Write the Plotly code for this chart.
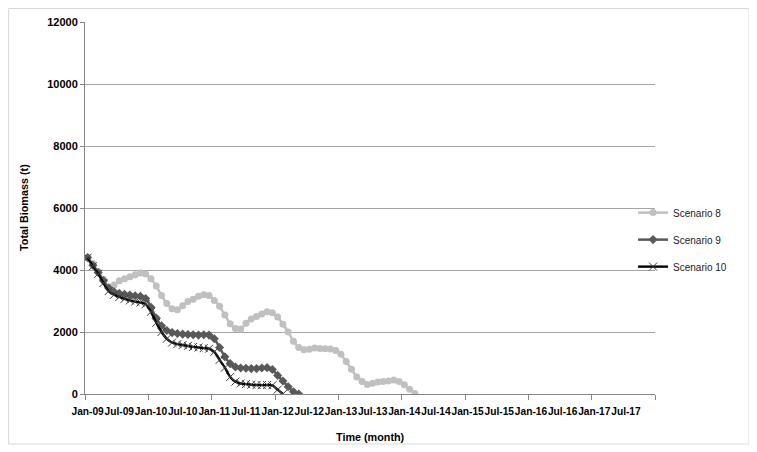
import plotly.graph_objects as go

# Monthly total biomass (t), starting Jan-09
scenario8 = [4400, 4200, 3950, 3700, 3450, 3520, 3650, 3720, 3780, 3850,
             3900, 3870, 3720, 3480, 3180, 2920, 2750, 2720, 2850, 2980,
             3060, 3150, 3200, 3180, 3020, 2830, 2550, 2270, 2110, 2100,
             2280, 2420, 2500, 2580, 2650, 2620, 2480, 2250, 2000, 1700,
             1500, 1430, 1440, 1480, 1470, 1460, 1450, 1400, 1280, 1050,
             800, 550, 400, 310, 350, 390, 400, 420, 450, 400,
             300, 150, 20]
scenario9 = [4400, 4150, 3920, 3650, 3420, 3300, 3250, 3220, 3190, 3170,
             3150, 3080, 2800, 2450, 2200, 2050, 1980, 1950, 1930, 1920,
             1910, 1900, 1910, 1900, 1780, 1500, 1200, 980, 870, 840,
             830, 820, 820, 840, 850, 790, 600, 420, 235, 75,
             0]
scenario10 = [4400, 4120, 3880, 3580, 3320, 3200, 3130, 3070, 3020, 2980,
              2950, 2900, 2650, 2300, 2000, 1780, 1660, 1610, 1580, 1550,
              1520, 1500, 1480, 1460, 1360, 1100, 850, 550, 400, 340,
              320, 300, 290, 285, 290, 280, 140, 0]

tick_labels = ["Jan-09", "Jul-09", "Jan-10", "Jul-10", "Jan-11", "Jul-11",
               "Jan-12", "Jul-12", "Jan-13", "Jul-13", "Jan-14", "Jul-14",
               "Jan-15", "Jul-15", "Jan-16", "Jul-16", "Jan-17", "Jul-17"]
n_months = 108

FONT = "Liberation Sans, Arial, sans-serif"

fig = go.Figure()
fig.add_trace(go.Scatter(
    x=list(range(len(scenario8))), y=scenario8, name="Scenario 8",
    mode="lines+markers", legendgroup="a",
    line=dict(color="#C0C0C0", width=2.5, shape="spline", smoothing=0.8),
    marker=dict(symbol="circle", size=7, color="#C0C0C0")))
fig.add_trace(go.Scatter(
    x=list(range(len(scenario9))), y=scenario9, name="Scenario 9",
    mode="lines+markers", legendgroup="b",
    line=dict(color="#595959", width=2.5, shape="spline", smoothing=0.8),
    marker=dict(symbol="diamond", size=7, color="#595959")))
fig.add_trace(go.Scatter(
    x=list(range(len(scenario10))), y=scenario10, name="Scenario 10",
    mode="lines+markers", legendgroup="c",
    line=dict(color="#000000", width=2.4, shape="spline", smoothing=0.8),
    marker=dict(symbol="x-thin", size=8, color="#404040",
                line=dict(width=1, color="#404040"))))

fig.update_layout(
    width=749, height=444,
    margin=dict(l=77, r=102, t=14, b=58),
    paper_bgcolor="white", plot_bgcolor="white",
    font=dict(family=FONT, size=10, color="#000000"),
    showlegend=True,
    legend=dict(x=0.9615, xanchor="left", y=0.415, yanchor="middle",
                font=dict(size=10, color="#222222"),
                traceorder="grouped", tracegroupgap=8,
                itemwidth=30, bgcolor="rgba(0,0,0,0)"),
    shapes=[dict(type="rect", xref="paper", yref="paper",
                 x0=-0.134, x1=1.1649, y0=-0.1344, y1=1.0363,
                 line=dict(color="#D9D9D9", width=1), layer="below")],
    annotations=[
        dict(text="<b>Total Biomass (t)</b>", xref="paper", yref="paper",
             x=-0.107, y=0.5, xanchor="center", yanchor="middle",
             textangle=-90, showarrow=False,
             font=dict(family=FONT, size=10.8, color="#000000")),
        dict(text="<b>Time (month)</b>", xref="paper", yref="paper",
             x=0.5, y=-0.1156, xanchor="center", yanchor="middle",
             showarrow=False,
             font=dict(family=FONT, size=10.8, color="#000000")),
    ],
)

fig.update_xaxes(
    range=[-0.5, n_months - 0.5], automargin=False,
    tickmode="array",
    tickvals=[i * 6 for i in range(len(tick_labels))],
    ticktext=tick_labels, tickangle=0,
    ticks="", showgrid=False, zeroline=False,
    showline=True, linecolor="#868686", linewidth=1,
    ticklabelstandoff=8,
    tickfont=dict(family=FONT, size=10.2, weight="bold"),
    minor=dict(tickmode="linear", tick0=-0.5, dtick=12, ticks="outside",
               ticklen=5, tickcolor="#868686", showgrid=False),
)
fig.update_yaxes(
    range=[0, 12000], tickmode="linear", tick0=0, dtick=2000,
    tickformat="d", automargin=False,
    ticks="outside", ticklen=4, tickcolor="#868686",
    showgrid=True, gridcolor="#A6A6A6", gridwidth=1,
    zeroline=False, showline=True, linecolor="#868686", linewidth=1,
    tickfont=dict(family=FONT, size=11, weight="bold"),
)

fig.write_html("out.html")
